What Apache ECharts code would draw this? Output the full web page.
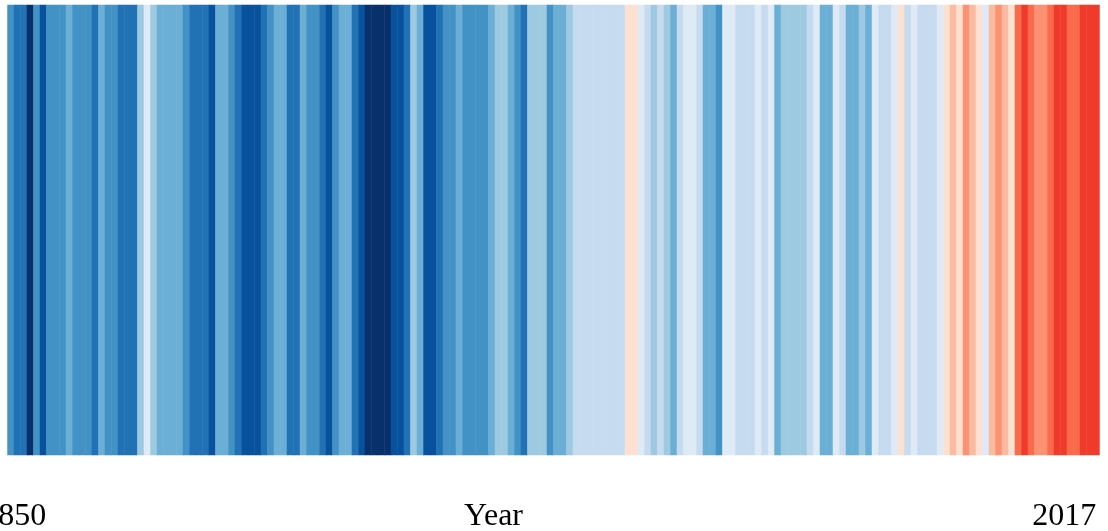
<!DOCTYPE html>
<html>
<head>
<meta charset="utf-8">
<title>Warming stripes</title>
<script src="https://cdn.jsdelivr.net/npm/echarts@6/dist/echarts.min.js"></script>
<style>
    html, body { margin: 0; padding: 0; background: #fff; }
    #chart { width: 1108px; height: 531px; }
</style>
</head>
<body>
<div id="chart"></div>
<script>
// years 1850 - 2017
var firstYear = 1850;
var lastYear = 2017;
var years = [];
for (var y = firstYear; y <= lastYear; y++) {
    years.push(String(y));
}

// temperature anomaly (°C)
var anomaly = [
    -0.45, -0.55, -0.55, -0.75, -0.45, -0.65, -0.45, -0.45, -0.45, -0.35,
    -0.45, -0.45, -0.45, -0.55, -0.35, -0.45, -0.45, -0.55, -0.55, -0.55,
    -0.25, -0.05, -0.25, -0.35, -0.35, -0.35, -0.35, -0.45, -0.55, -0.55,
    -0.55, -0.65, -0.35, -0.35, -0.45, -0.55, -0.65, -0.65, -0.65, -0.55,
    -0.45, -0.35, -0.35, -0.55, -0.55, -0.35, -0.45, -0.45, -0.55, -0.65,
    -0.45, -0.35, -0.35, -0.55, -0.65, -0.75, -0.75, -0.75, -0.75, -0.65,
    -0.65, -0.55, -0.25, -0.35, -0.65, -0.65, -0.55, -0.45, -0.45, -0.35,
    -0.45, -0.45, -0.45, -0.45, -0.35, -0.25, -0.25, -0.35, -0.45, -0.55,
    -0.25, -0.25, -0.25, -0.45, -0.35, -0.35, -0.25, -0.15, -0.15, -0.15,
    -0.15, -0.15, -0.15, -0.15, -0.15, 0.05, 0.05, -0.05, -0.15, -0.25,
    -0.15, -0.25, -0.35, -0.15, -0.05, -0.05, -0.15, -0.35, -0.35, -0.45,
    -0.05, -0.05, -0.15, -0.15, -0.15, -0.05, -0.15, -0.05, -0.35, -0.25,
    -0.25, -0.25, -0.25, -0.15, -0.05, -0.35, -0.35, -0.05, -0.15, -0.35,
    -0.35, -0.25, -0.35, -0.05, -0.15, -0.15, -0.05, 0.05, -0.15, -0.05,
    -0.15, -0.15, -0.15, -0.05, 0.05, 0.15, 0.05, 0.25, 0.15, 0.05,
    -0.05, 0.15, 0.25, 0.15, 0.05, 0.35, 0.45, 0.35, 0.25, 0.25,
    0.35, 0.45, 0.45, 0.35, 0.35, 0.45, 0.45, 0.45
];

// colour classes (blues cold, reds warm)
var binEdges = [-0.8, -0.7, -0.6, -0.5, -0.4, -0.3, -0.2, -0.1, 0, 0.1, 0.2, 0.3, 0.4, 0.5, 0.6, 0.7, 0.8];
var binColors = [
    '#08306b', '#08519c', '#2171b5', '#4292c6', '#6baed6', '#9ecae1', '#c6dbef', '#deebf7',
    '#fee0d2', '#fcbba1', '#fc9272', '#fb6a4a', '#ef3b2c', '#cb181d', '#a50f15', '#67000d'
];

var pieces = [];
for (var b = 0; b < binColors.length; b++) {
    pieces.push({ gte: binEdges[b], lt: binEdges[b + 1], color: binColors[b] });
}

var cells = [];
for (var i = 0; i < years.length; i++) {
    cells.push([i, 0, anomaly[i]]);
}

var serif = "'Liberation Serif', 'Times New Roman', serif";

var option = {
    animation: false,
    grid: {
        left: 7.5,
        right: 8.5,
        top: 5,
        bottom: 76,
        outerBoundsMode: 'none',
        containLabel: false
    },
    xAxis: {
        type: 'category',
        data: years,
        name: 'Year',
        nameLocation: 'middle',
        nameGap: 46,
        nameMoveOverlap: false,
        nameTextStyle: {
            color: '#000',
            fontFamily: serif,
            fontSize: 32,
            verticalAlign: 'top',
            padding: [0, 120, 0, 0]
        },
        axisLine: { show: false },
        axisTick: { show: false },
        splitLine: { show: false },
        axisLabel: {
            color: '#000',
            fontFamily: serif,
            fontSize: 32,
            margin: 46,
            hideOverlap: false,
            alignMaxLabel: 'right',
            interval: function (idx) {
                return idx === 0 || idx === years.length - 1;
            },
            formatter: function (value, idx) {
                return idx === 0 ? '{first|' + value + '}' : value;
            },
            rich: {
                first: {
                    color: '#000',
                    fontFamily: serif,
                    fontSize: 32,
                    padding: [0, 0, 0, 7]
                }
            }
        }
    },
    yAxis: {
        type: 'category',
        data: [''],
        show: false
    },
    visualMap: {
        type: 'piecewise',
        show: false,
        dimension: 2,
        pieces: pieces
    },
    series: [
        {
            type: 'heatmap',
            data: cells,
            itemStyle: { borderWidth: 0 },
            emphasis: { disabled: true }
        }
    ]
};

var myChart = echarts.init(document.getElementById('chart'));
myChart.setOption(option);
</script>
</body>
</html>
